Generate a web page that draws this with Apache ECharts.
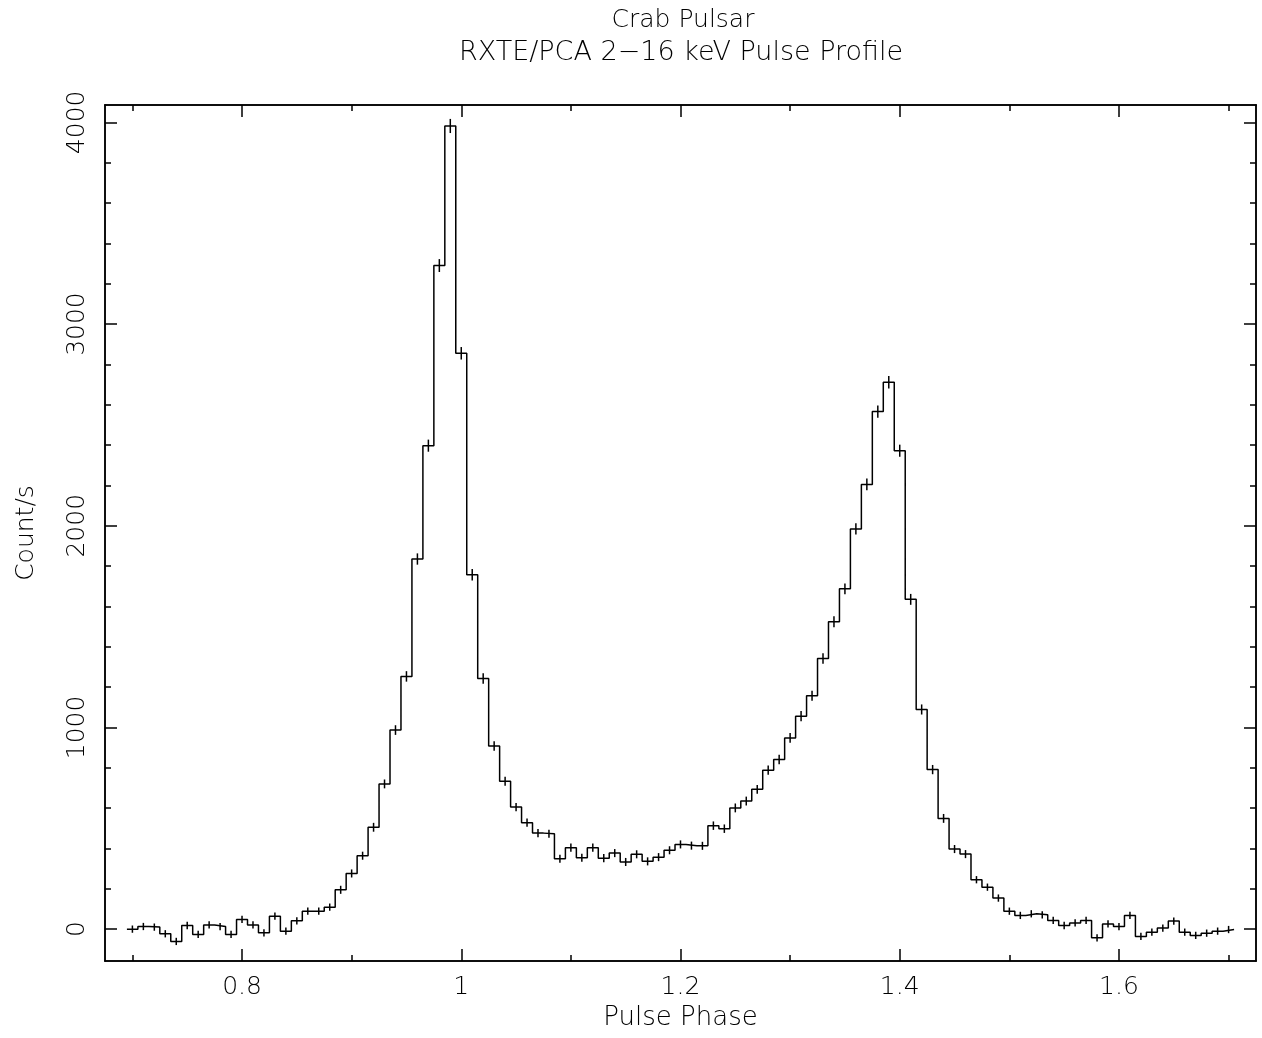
<!DOCTYPE html>
<html><head><meta charset="utf-8">
<script src="https://cdn.jsdelivr.net/npm/echarts@6/dist/echarts.min.js"></script>
<style>html,body{margin:0;padding:0;background:#fff}#c{width:1262px;height:1038px}</style>
</head><body><div id="c"></div>
<script>
// Bin centres (pulse phase)
const phase = [
 0.70,0.71,0.72,0.73,0.74,0.75,0.76,0.77,0.78,0.79,
 0.80,0.81,0.82,0.83,0.84,0.85,0.86,0.87,0.88,0.89,
 0.90,0.91,0.92,0.93,0.94,0.95,0.96,0.97,0.98,0.99,
 1.00,1.01,1.02,1.03,1.04,1.05,1.06,1.07,1.08,1.09,
 1.10,1.11,1.12,1.13,1.14,1.15,1.16,1.17,1.18,1.19,
 1.20,1.21,1.22,1.23,1.24,1.25,1.26,1.27,1.28,1.29,
 1.30,1.31,1.32,1.33,1.34,1.35,1.36,1.37,1.38,1.39,
 1.40,1.41,1.42,1.43,1.44,1.45,1.46,1.47,1.48,1.49,
 1.50,1.51,1.52,1.53,1.54,1.55,1.56,1.57,1.58,1.59,
 1.60,1.61,1.62,1.63,1.64,1.65,1.66,1.67,1.68,1.69,
 1.70
];
// Count rate per bin (count/s)
const countRate = [
 0,13,10,-23,-61,18,-26,21,13,-26,
 48,21,-18,64,-10,41,89,89,109,195,
 276,364,505,720,987,1253,1835,2397,3290,3982,
 2855,1757,1243,908,733,605,528,476,473,349,
 404,354,404,352,377,333,371,336,357,391,
 420,414,413,513,498,601,635,693,788,841,
 948,1056,1157,1342,1524,1687,1984,2205,2566,2712,
 2372,1635,1089,791,549,397,372,245,208,154,
 89,68,76,71,43,18,31,43,-43,26,
 13,68,-36,-15,5,40,-15,-31,-20,-10,
 -2
];
// 1-sigma errors (count/s)
const countErr = [
 18,18,18,18,18,18,18,18,18,18,
 18,18,18,18,18,18,18,18,18,20,
 20,20,22,22,24,26,28,30,32,35,
 31,28,26,24,22,20,20,20,20,20,
 20,20,20,20,20,20,20,20,20,20,
 20,20,20,21,21,22,22,22,23,23,
 24,25,25,26,27,27,28,29,30,31,
 30,27,25,23,22,20,20,18,18,18,
 18,18,18,18,18,18,18,18,18,18,
 18,18,18,18,18,18,18,18,18,18,
 18
];
const binWidth = 0.01;
const xMajorTicks = [0.8, 1.0, 1.2, 1.4, 1.6];
const xMinorTicks = [0.7, 0.9, 1.1, 1.3, 1.5, 1.7];
const yMajorTicks = [0, 1000, 2000, 3000, 4000];
const yMinorTicks = [200,400,600,800,1200,1400,1600,1800,2200,2400,2600,2800,3200,3400,3600,3800];

const X_MIN = 0.675, X_MAX = 1.725, Y_MIN = -158, Y_MAX = 4086;
const FONT = 'DejaVu Sans';
const INK = '#000';

// histogram steps: left edges + final right edge
const stepData = phase.map((p, i) => [p - binWidth / 2, countRate[i]]);
stepData.push([phase[phase.length - 1] + binWidth / 2, countRate[countRate.length - 1]]);
const errData = phase.map((p, i) => [p, countRate[i], countErr[i]]);

const plain = v => String(Math.round(v * 1000) / 1000);

function xAx(pos, ticks, len, labels) {
  return {
    type: 'value', position: pos, min: X_MIN, max: X_MAX, gridIndex: 0,
    axisLine: { show: true, onZero: false, lineStyle: { color: INK, width: 1.5 } },
    axisTick: { show: true, inside: true, length: len, customValues: ticks, lineStyle: { color: INK, width: 1.5 } },
    axisLabel: labels ? { show: true, customValues: ticks, formatter: plain, fontSize: 25, color: INK, fontFamily: FONT, fontWeight: 200, margin: 14 } : { show: false },
    splitLine: { show: false }
  };
}
function yAx(pos, ticks, len, labels) {
  return {
    type: 'value', position: pos, min: Y_MIN, max: Y_MAX, gridIndex: 0,
    axisLine: { show: true, onZero: false, lineStyle: { color: INK, width: 1.5 } },
    axisTick: { show: true, inside: true, length: len, customValues: ticks, lineStyle: { color: INK, width: 1.5 } },
    axisLabel: labels ? { show: true, customValues: ticks, formatter: plain, fontSize: 25, color: INK, fontFamily: FONT, fontWeight: 200, margin: 15, rotate: 90 } : { show: false },
    splitLine: { show: false }
  };
}

const xMain = xAx('bottom', xMajorTicks, 12, true);
xMain.name = 'Pulse Phase';
xMain.nameLocation = 'middle';
xMain.nameGap = 42;
xMain.nameTextStyle = { fontSize: 26, color: INK, fontFamily: FONT, fontWeight: 200 };
const yMain = yAx('left', yMajorTicks, 12, true);
yMain.name = 'Count/s';
yMain.nameLocation = 'middle';
yMain.nameGap = 66;
yMain.nameRotate = 90;
yMain.nameTextStyle = { fontSize: 25, color: INK, fontFamily: FONT, fontWeight: 200, padding: [0, 0, 0, 0] };

const chart = echarts.init(document.getElementById('c'));
chart.setOption({
  backgroundColor: '#fff',
  animation: false,
  title: [
    { text: 'Crab Pulsar', left: 678, top: 3, textAlign: 'center',
      textStyle: { fontSize: 25, color: INK, fontFamily: FONT, fontWeight: 200 } },
    { text: 'RXTE/PCA 2\u221216 keV Pulse Profile', left: 676, top: 34, textAlign: 'center',
      textStyle: { fontSize: 27, color: INK, fontFamily: FONT, fontWeight: 200 } }
  ],
  grid: { left: 105, right: 6, top: 105, bottom: 77, containLabel: false },
  xAxis: [xMain, xAx('bottom', xMinorTicks, 6, false), xAx('top', xMajorTicks, 12, false), xAx('top', xMinorTicks, 6, false)],
  yAxis: [yMain, yAx('left', yMinorTicks, 6, false), yAx('right', yMajorTicks, 12, false), yAx('right', yMinorTicks, 6, false)],
  series: [
    {
      type: 'line', xAxisIndex: 0, yAxisIndex: 0, step: 'end', data: stepData,
      showSymbol: false, symbol: 'none', lineStyle: { color: INK, width: 1.5 }, z: 3
    },
    {
      type: 'custom', xAxisIndex: 0, yAxisIndex: 0, data: errData, z: 4,
      renderItem: function (params, api) {
        const x = api.value(0), y = api.value(1), e = api.value(2);
        const p1 = api.coord([x, y - e]);
        const p2 = api.coord([x, y + e]);
        return { type: 'line', shape: { x1: p1[0], y1: p1[1], x2: p2[0], y2: p2[1] },
                 style: { stroke: INK, lineWidth: 1.5 } };
      }
    }
  ]
});
</script></body></html>
